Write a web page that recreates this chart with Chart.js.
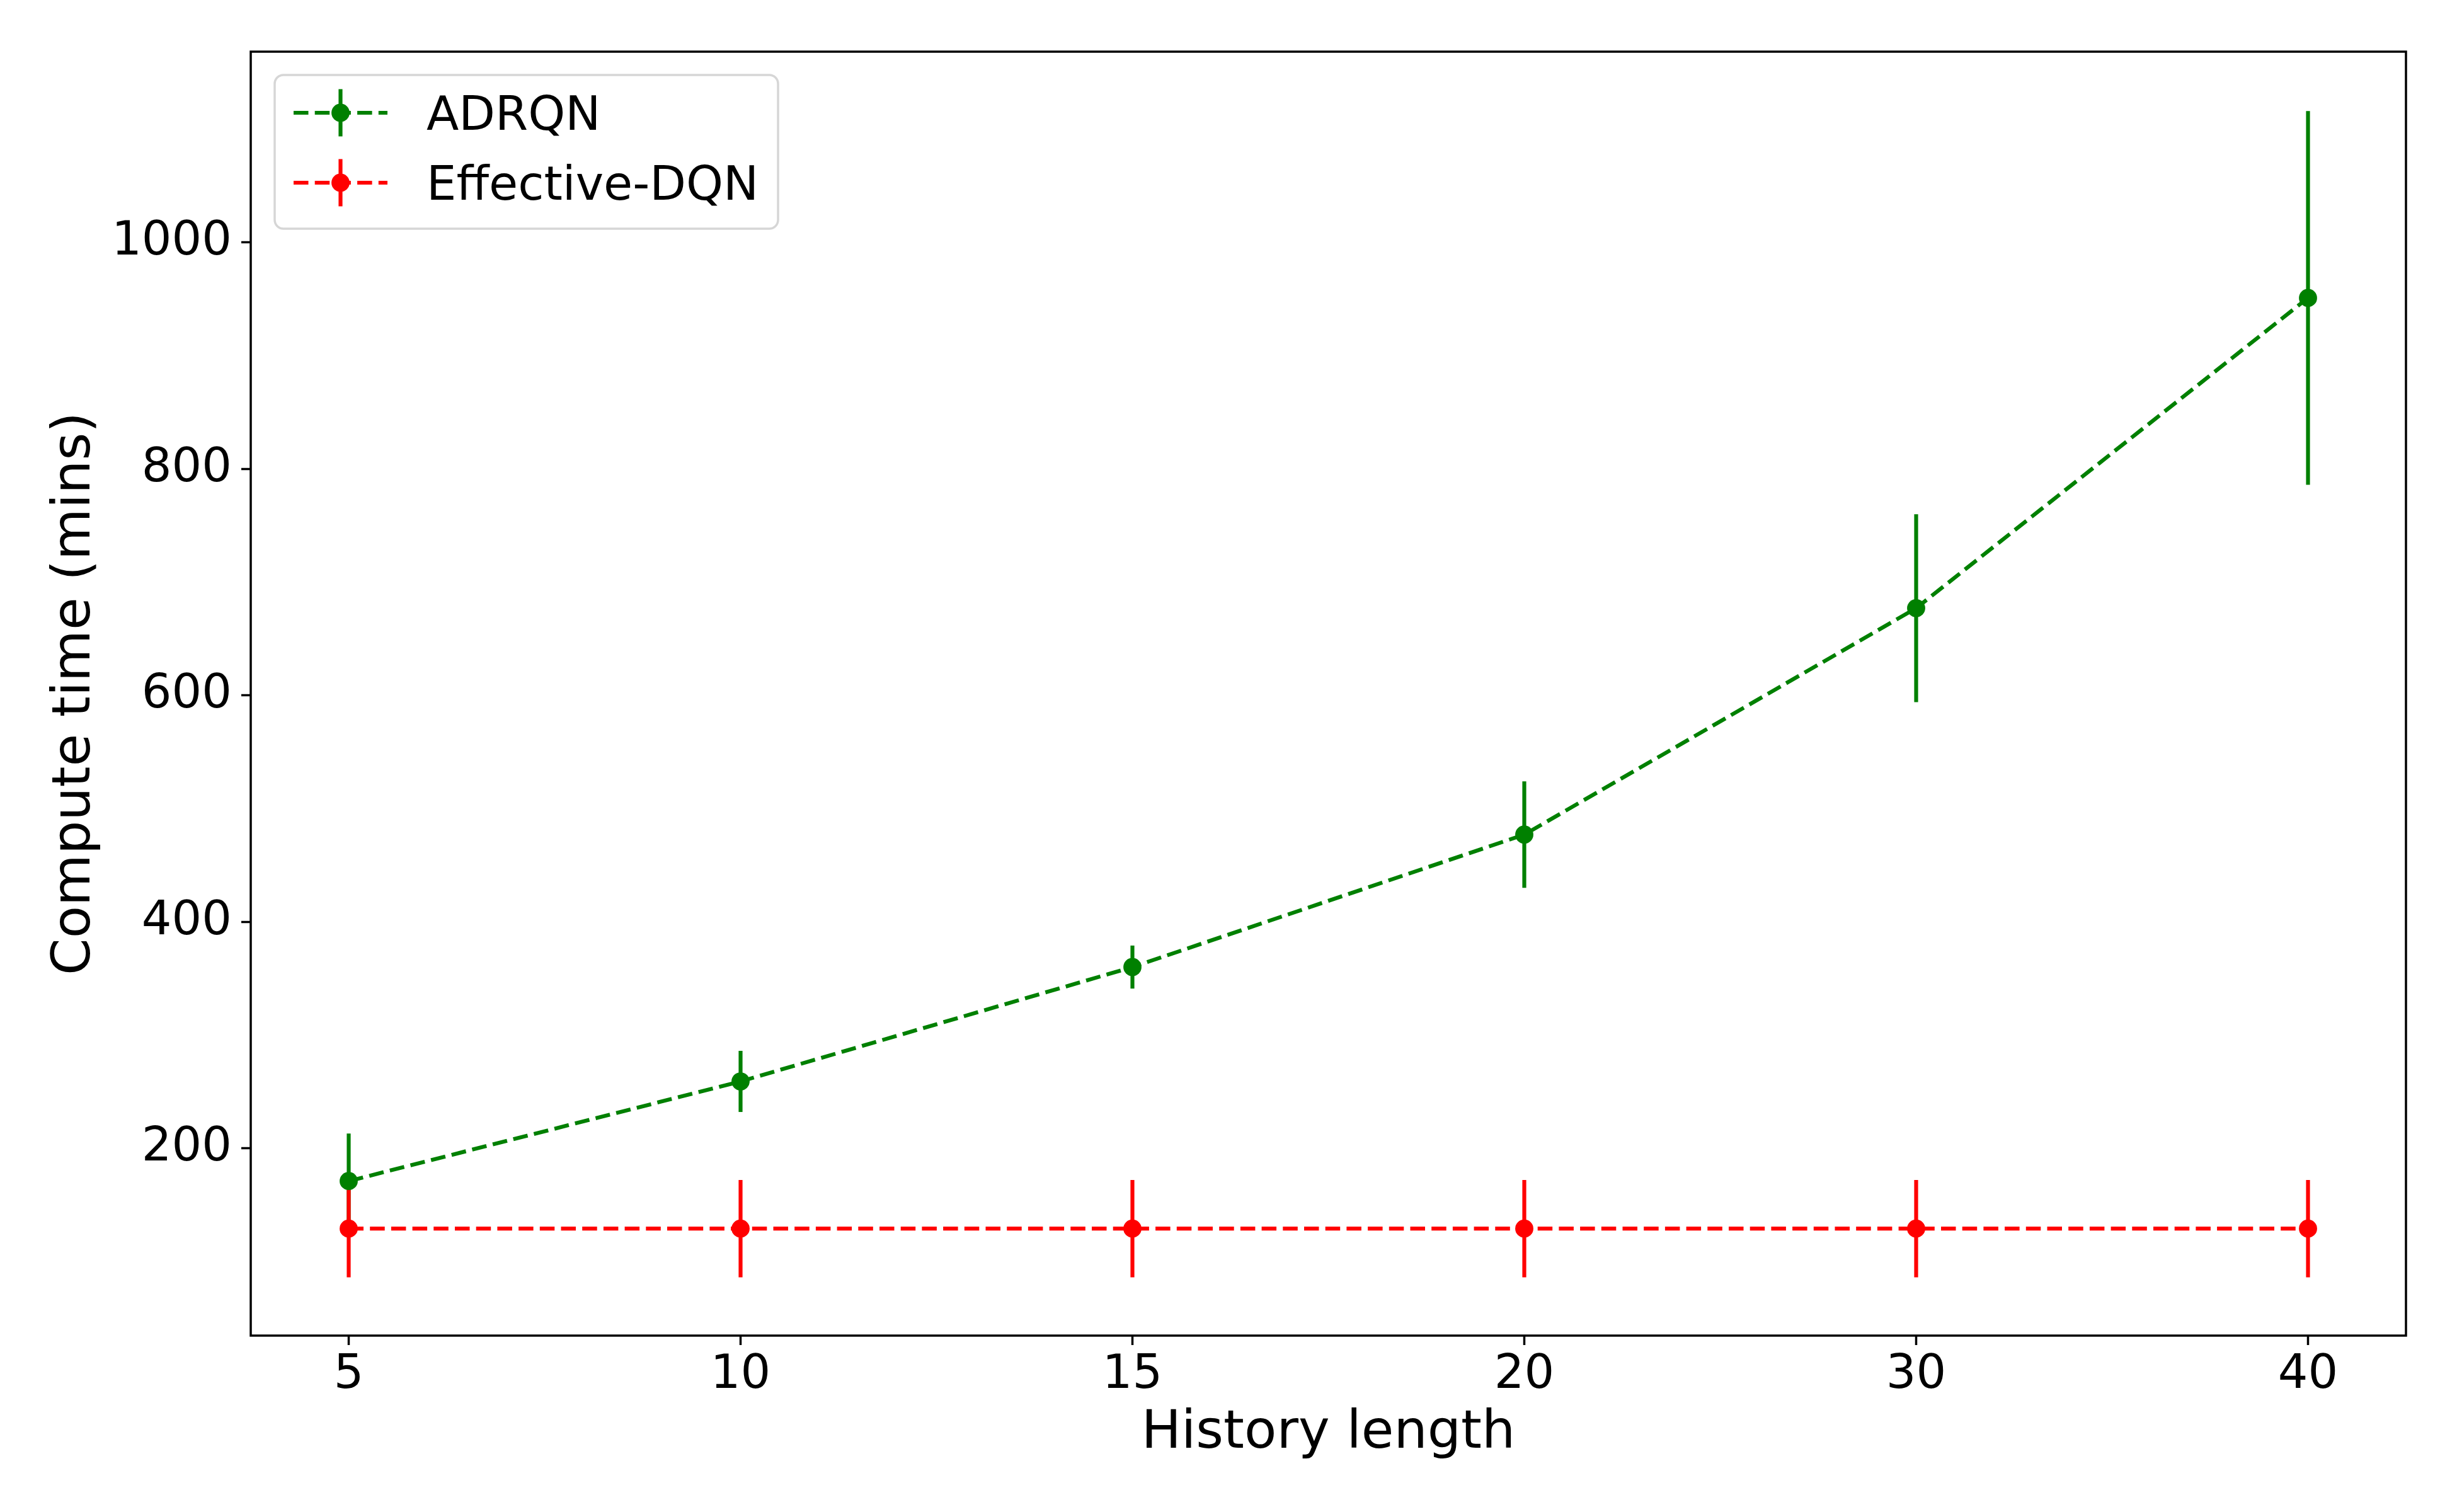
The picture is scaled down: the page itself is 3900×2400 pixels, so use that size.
<!DOCTYPE html>
<html>
<head>
<meta charset="utf-8">
<script src="https://cdn.jsdelivr.net/npm/chart.js@4.4.1/dist/chart.umd.min.js"></script>
<style>
    html, body { margin: 0; padding: 0; background: #ffffff; }
    #wrap { width: 3900px; height: 2400px; }
</style>
</head>
<body>
<div id="wrap"><canvas id="computeChart" width="3900" height="2400"></canvas></div>
<script>
// Values
const historyLengths = ['5', '10', '15', '20', '30', '40'];
const adrqnTime = [171, 259, 360, 477, 677, 951];
const adrqnErr = [42, 27, 19, 47, 83, 165];
const effectiveTime = [129, 129, 129, 129, 129, 129];
const effectiveErr = [43, 43, 43, 43, 43, 43];
const yTickValues = [200, 400, 600, 800, 1000];
const seriesNames = ['ADRQN', 'Effective-DQN'];

const FONT = "'DejaVu Sans', sans-serif";
const GREEN = '#008000';
const RED = '#ff0000';
const DASH = [23.5, 10.2];
const LINE_W = 6.2;

function toPoints(values) {
    return values.map((y, i) => ({ x: i, y: y }));
}

// vertical error bars, drawn under lines and markers like matplotlib does
const errorBars = {
    id: 'errorBars',
    beforeDatasetsDraw(chart) {
        const ctx = chart.ctx;
        const xs = chart.scales.x;
        const ys = chart.scales.y;
        chart.data.datasets.forEach(ds => {
            ctx.save();
            ctx.strokeStyle = ds.borderColor;
            ctx.lineWidth = LINE_W;
            ctx.lineCap = 'butt';
            ds.data.forEach((p, i) => {
                const px = xs.getPixelForValue(p.x);
                ctx.beginPath();
                ctx.moveTo(px, ys.getPixelForValue(p.y - ds.errors[i]));
                ctx.lineTo(px, ys.getPixelForValue(p.y + ds.errors[i]));
                ctx.stroke();
            });
            ctx.restore();
        });
    }
};

// axes frame + matplotlib style legend box
const frameAndLegend = {
    id: 'frameAndLegend',
    afterDraw(chart) {
        const ctx = chart.ctx;
        const a = chart.chartArea;
        ctx.save();
        ctx.strokeStyle = '#000000';
        ctx.lineWidth = 3.5;
        ctx.strokeRect(a.left, a.top, a.right - a.left, a.bottom - a.top);

        // legend frame
        const lx = a.left + 38, ly = a.top + 37, lw = 799, lh = 244;
        ctx.beginPath();
        ctx.roundRect(lx, ly, lw, lh, 14);
        ctx.fillStyle = 'rgba(255,255,255,0.8)';
        ctx.fill();
        ctx.strokeStyle = '#d6d6d6';
        ctx.lineWidth = 3.5;
        ctx.stroke();

        chart.data.datasets.forEach((ds, k) => {
            const cy = a.top + 97 + k * 111;
            const x0 = a.left + 68, x1 = a.left + 217;
            const mx = (x0 + x1) / 2;
            ctx.strokeStyle = ds.borderColor;
            ctx.lineWidth = LINE_W;
            // dashed handle
            ctx.setLineDash(DASH);
            ctx.beginPath();
            ctx.moveTo(x0, cy);
            ctx.lineTo(x1, cy);
            ctx.stroke();
            ctx.setLineDash([]);
            // error bar handle
            ctx.beginPath();
            ctx.moveTo(mx, cy - 37.5);
            ctx.lineTo(mx, cy + 37.5);
            ctx.stroke();
            // marker
            ctx.fillStyle = ds.borderColor;
            ctx.beginPath();
            ctx.arc(mx, cy, 14.4, 0, Math.PI * 2);
            ctx.fill();
            // label
            ctx.fillStyle = '#000000';
            ctx.font = '75px ' + FONT;
            ctx.textAlign = 'left';
            ctx.textBaseline = 'alphabetic';
            ctx.fillText(ds.label, a.left + 279, cy + 27);
        });
        ctx.restore();
    }
};

function makeDataset(label, values, errors, color) {
    return {
        label: label,
        data: toPoints(values),
        errors: errors,
        borderColor: color,
        backgroundColor: color,
        borderWidth: LINE_W,
        borderDash: DASH,
        pointRadius: 14.4,
        pointBorderWidth: 0,
        pointBackgroundColor: color,
        pointHoverRadius: 14.4,
        tension: 0,
        fill: false
    };
}

function initChart() {
    const ctx = document.getElementById('computeChart').getContext('2d');
    new Chart(ctx, {
        type: 'line',
        data: {
            datasets: [
                makeDataset(seriesNames[0], adrqnTime, adrqnErr, GREEN),
                makeDataset(seriesNames[1], effectiveTime, effectiveErr, RED)
            ]
        },
        options: {
            responsive: false,
            animation: false,
            devicePixelRatio: 1,
            events: [],
            layout: { padding: { left: 0, top: 82, right: 81, bottom: 0 } },
            plugins: {
                legend: { display: false },
                tooltip: { enabled: false }
            },
            scales: {
                x: {
                    type: 'linear',
                    min: -0.25,
                    max: 5.25,
                    afterFit: scale => { scale.height = 280; },
                    afterBuildTicks: scale => {
                        scale.ticks = historyLengths.map((_, i) => ({ value: i }));
                    },
                    ticks: {
                        autoSkip: false,
                        maxRotation: 0,
                        padding: 4,
                        color: '#000000',
                        font: { family: FONT, size: 75 },
                        callback: value => historyLengths[value]
                    },
                    grid: {
                        drawOnChartArea: false,
                        drawTicks: true,
                        tickLength: 15,
                        tickWidth: 3.5,
                        tickColor: '#000000'
                    },
                    border: { display: false },
                    title: {
                        display: true,
                        text: 'History length',
                        color: '#000000',
                        font: { family: FONT, size: 84 },
                        padding: { top: 0, bottom: 73 }
                    }
                },
                y: {
                    type: 'linear',
                    min: 34.5,
                    max: 1168.5,
                    afterFit: scale => { scale.width = 398; },
                    afterBuildTicks: scale => {
                        scale.ticks = yTickValues.map(v => ({ value: v }));
                    },
                    ticks: {
                        padding: 15,
                        color: '#000000',
                        font: { family: FONT, size: 75 },
                        callback: value => String(value)
                    },
                    grid: {
                        drawOnChartArea: false,
                        drawTicks: true,
                        tickLength: 15,
                        tickWidth: 3.5,
                        tickColor: '#000000'
                    },
                    border: { display: false },
                    title: {
                        display: true,
                        text: 'Compute time (mins)',
                        color: '#000000',
                        font: { family: FONT, size: 84 },
                        padding: { top: 70, bottom: 0 }
                    }
                }
            }
        },
        plugins: [errorBars, frameAndLegend]
    });
}

window.onload = initChart;
</script>
</body>
</html>
